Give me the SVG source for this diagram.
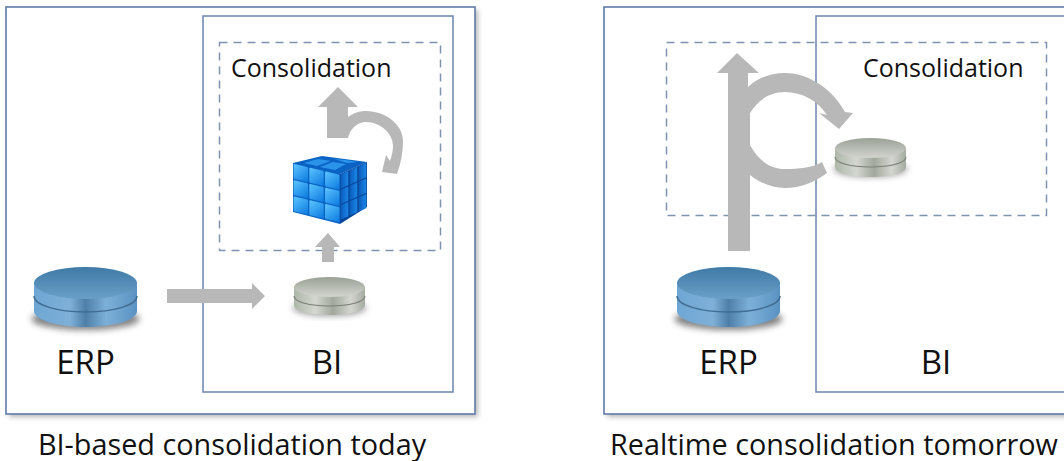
<svg xmlns="http://www.w3.org/2000/svg" width="1064" height="461" viewBox="0 0 1064 461">
<style>
text{font-family:"Open Sans","Noto Sans","DejaVu Sans",sans-serif;fill:#111}
.lab{font-size:25px}
.big{font-size:33px}
.cap{font-size:28.8px}
.panel{fill:#fff;stroke:#5f7ba8;stroke-width:1.6}
.inner{fill:none;stroke:#6c84ad;stroke-width:1.5}
.dash{fill:none;stroke:#7f93b0;stroke-width:1.5;stroke-dasharray:8 6}
.arrow{fill:#b8b8b8}
</style>
<defs>
<filter id="sh" x="-5%" y="-5%" width="110%" height="110%"><feGaussianBlur stdDeviation="2.5"/></filter>
<filter id="sh2" x="-20%" y="-30%" width="140%" height="160%"><feGaussianBlur stdDeviation="3"/></filter>
<linearGradient id="blue" x1="0" x2="1" y1="0" y2="0"><stop offset="0" stop-color="#6ea6d3"/><stop offset=".35" stop-color="#7fb0d8"/><stop offset=".5" stop-color="#4d7fa8"/><stop offset=".7" stop-color="#7db0d8"/><stop offset="1" stop-color="#5a92c2"/></linearGradient>
<linearGradient id="blueTop" x1="0" x2="0" y1="0" y2="1"><stop offset="0" stop-color="#3f7aa6"/><stop offset="1" stop-color="#6a9fc8"/></linearGradient>
<linearGradient id="gray" x1="0" x2="1" y1="0" y2="0"><stop offset="0" stop-color="#aeb6a9"/><stop offset=".3" stop-color="#d3d7d0"/><stop offset=".55" stop-color="#a2a89d"/><stop offset=".8" stop-color="#d3d6d0"/><stop offset="1" stop-color="#a4aba0"/></linearGradient>
<linearGradient id="grayTop" x1="0" x2="0" y1="0" y2="1"><stop offset="0" stop-color="#9aa196"/><stop offset="1" stop-color="#d2d5cf"/></linearGradient>
<linearGradient id="tile" x1="0" y1="0" x2="1" y2="1"><stop offset="0" stop-color="#5cc6ff"/><stop offset="1" stop-color="#0b78e0"/></linearGradient>
<linearGradient id="side" x1="0" y1="0" x2="1" y2="0"><stop offset="0" stop-color="#0a5cbc"/><stop offset="1" stop-color="#1a86e6"/></linearGradient>
<rect id="t" x=".04" y=".04" width=".92" height=".92" rx=".06" fill="url(#tile)"/>
<rect id="s" x=".08" y=".04" width=".84" height=".92" fill="url(#side)"/>
</defs>

<g id="left-panel">
<rect x="9" y="10" width="469" height="407" fill="#8a8a8a" opacity=".6" filter="url(#sh)"/>
<rect class="panel" x="6" y="7" width="469" height="407"/>
<text class="cap" x="232" y="455" text-anchor="middle">BI-based consolidation today</text>
</g>
<g id="right-panel">
<rect x="607" y="10" width="470" height="407" fill="#8a8a8a" opacity=".6" filter="url(#sh)"/>
<rect class="panel" x="604" y="7" width="480" height="407"/>
<text class="cap" x="834" y="455" text-anchor="middle">Realtime consolidation tomorrow</text>
</g>

<g id="bi-left"><rect class="inner" x="203" y="16" width="250" height="376"/><text class="big" x="327" y="374" text-anchor="middle">BI</text></g>
<g id="bi-right"><rect class="inner" x="816" y="16" width="260" height="376"/><text class="big" x="936" y="374" text-anchor="middle">BI</text></g>
<g id="consolidation-left"><rect class="dash" x="219.500" y="42.500" width="221" height="208"/><text class="lab" x="231" y="77">Consolidation</text></g>
<g id="consolidation-right"><rect class="dash" x="666.500" y="42.500" width="380" height="173"/><text class="lab" x="863" y="77">Consolidation</text></g>

<g id="connectors">
<path class="arrow" d="M167 289H252V283L265 296L252 309V303H167Z"/>
<path class="arrow" d="M322 262V247H315L328 233L340 247H334V262Z"/>
<path class="arrow" d="M327 138V107H318L338 87L358 107H348V117C354 113 359 111 366 111C386 111 403 125 403 141C403 152 401 163 397 174L382 172L386 155L390 161C392 155 393 150 393 146C393 133 380 122 366 122C357 122 350 129 348 138Z"/>
<path class="arrow" d="M728 251V73H717L737 53L759 73H748V87C758 78 770 73 785 73C805 73 830 85 845 112L853 113L839 129L819 113L827 115C818 101 802 92 785 92C770 92 758 100 750 113V145C758 160 770 169 785 169C798 169 812 168 822 162L827 173C815 182 800 188 785 188C772 188 760 183 750 175V251Z"/>
</g>

<g id="erp-left">
<ellipse cx="85.500" cy="319" rx="54" ry="11" fill="#333" opacity=".6" filter="url(#sh2)"/>
<path d="M34 283V311C34 320 57 327 85.500 327S137 320 137 311V283Z" fill="url(#blue)"/>
<path d="M34 296C34 305 57 312 85.500 312S137 305 137 296" fill="none" stroke="#3f6d93" stroke-width="1.500"/>
<ellipse cx="85.500" cy="283" rx="51.500" ry="16" fill="url(#blueTop)"/>
<text class="big" x="85.500" y="374" text-anchor="middle">ERP</text>
</g>
<g id="erp-right">
<ellipse cx="728.500" cy="319" rx="54" ry="11" fill="#333" opacity=".6" filter="url(#sh2)"/>
<path d="M677 283V311C677 320 700 327 728.500 327S780 320 780 311V283Z" fill="url(#blue)"/>
<path d="M677 296C677 305 700 312 728.500 312S780 305 780 296" fill="none" stroke="#3f6d93" stroke-width="1.500"/>
<ellipse cx="728.500" cy="283" rx="51.500" ry="16" fill="url(#blueTop)"/>
<text class="big" x="728.500" y="374" text-anchor="middle">ERP</text>
</g>
<g id="bi-store-left">
<ellipse cx="329.500" cy="308" rx="37" ry="8" fill="#555" opacity=".55" filter="url(#sh2)"/>
<path d="M294 287V305C294 311 310 315 329.500 315S365 311 365 305V287Z" fill="url(#gray)"/>
<path d="M294 296C294 302 310 306 329.500 306S365 302 365 296" fill="none" stroke="#7a7f76" stroke-width="1.200"/>
<ellipse cx="329.500" cy="287" rx="35.500" ry="10" fill="url(#grayTop)"/>
</g>
<g id="bi-store-right">
<ellipse cx="870.500" cy="169" rx="37" ry="8" fill="#555" opacity=".55" filter="url(#sh2)"/>
<path d="M835 148V167C835 173 851 177 870.500 177S906 173 906 167V148Z" fill="url(#gray)"/>
<path d="M835 157C835 163 851 167 870.500 167S906 163 906 157" fill="none" stroke="#7a7f76" stroke-width="1.200"/>
<ellipse cx="870.500" cy="148" rx="35.500" ry="10" fill="url(#grayTop)"/>
</g>
<g id="cube">
<polygon points="293,163 322,156 367,162 340,174 340,224 293,212" fill="#0a63c4"/>
<polygon points="340,174 367,162 367,207 340,224" fill="#07469a"/>
<polygon points="304,163 318,159 331,161 317,166" fill="#2b93ea"/>
<polygon points="320,167 333,162 346,164 335,170" fill="#2b93ea"/>
<polygon points="334,159 346,160 358,162 347,163" fill="#2b93ea"/>
<g transform="matrix(15.700,3.700,0,16.300,293,163)"><use href="#t"/><use href="#t" x="1"/><use href="#t" x="2"/><use href="#t" y="1"/><use href="#t" x="1" y="1"/><use href="#t" x="2" y="1"/><use href="#t" y="2"/><use href="#t" x="1" y="2"/><use href="#t" x="2" y="2"/></g>
<g transform="matrix(9,-4,0,15.500,340,174)"><use href="#s"/><use href="#s" x="1"/><use href="#s" x="2"/><use href="#s" y="1"/><use href="#s" x="1" y="1"/><use href="#s" x="2" y="1"/><use href="#s" y="2"/><use href="#s" x="1" y="2"/><use href="#s" x="2" y="2"/></g>
</g>
</svg>
